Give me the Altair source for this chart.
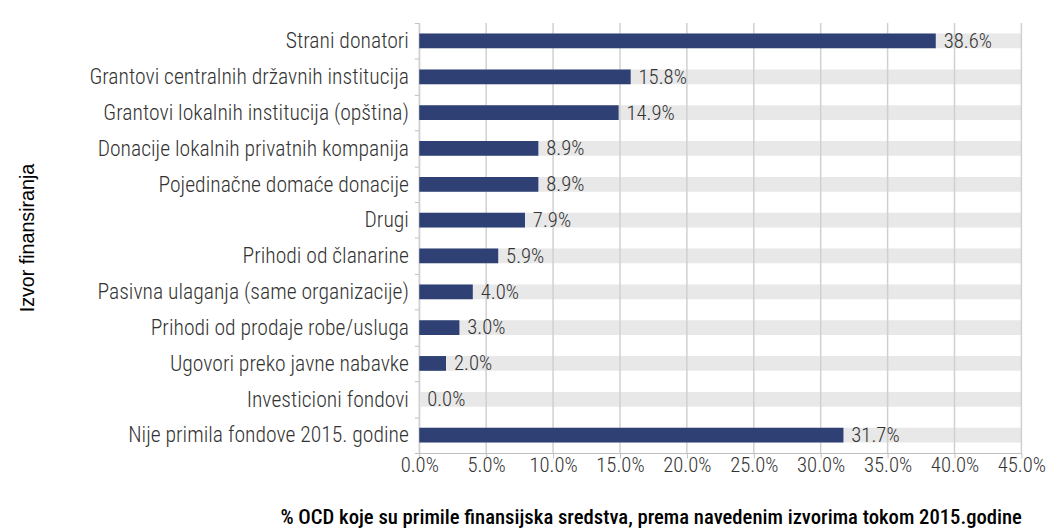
import altair as alt
import pandas as pd

categories = [
    "Strani donatori",
    "Grantovi centralnih državnih institucija",
    "Grantovi lokalnih institucija (opština)",
    "Donacije lokalnih privatnih kompanija",
    "Pojedinačne domaće donacije",
    "Drugi",
    "Prihodi od članarine",
    "Pasivna ulaganja (same organizacije)",
    "Prihodi od prodaje robe/usluga",
    "Ugovori preko javne nabavke",
    "Investicioni fondovi",
    "Nije primila fondove 2015. godine",
]
values = [0.386, 0.158, 0.149, 0.089, 0.089, 0.079, 0.059, 0.040, 0.030, 0.020, 0.000, 0.317]
tick_values = [0, 0.05, 0.1, 0.15, 0.2, 0.25, 0.3, 0.35, 0.4, 0.45]
x_max = 0.45

df = pd.DataFrame({"cat": categories, "val": values, "full": [x_max] * len(categories)})
grid_df = pd.DataFrame({"t": tick_values})

FONT = "Roboto Condensed, Liberation Sans Narrow, Roboto, sans-serif"

y_enc = alt.Y(
    "cat:N",
    sort=categories,
    title="Izvor finansiranja",
    axis=alt.Axis(
        labelFont=FONT,
        labelFontSize=22,
        labelFontWeight=300,
        labelColor="#333333",
        labelLimit=500,
        titleFont="Liberation Sans, Arial, sans-serif",
        titleFontSize=20,
        titleFontWeight="normal",
        titleColor="#000000",
        titleAngle=270,
        titleAlign="center",
        titleBaseline="middle",
        titleX=-398,
        titleY=218,
        domainColor="#bfbfbf",
        tickColor="#bfbfbf",
        tickBand="extent",
        tickSize=5,
        labelPadding=6,
        grid=False,
    ),
    scale=alt.Scale(paddingInner=0.0, paddingOuter=0.0),
)

x_axis = alt.Axis(
    format=".1%",
    values=tick_values,
    labelFont=FONT,
    labelFontSize=21,
    labelFontWeight=300,
    labelColor="#333333",
    labelOverlap=False,
    labelFlush=False,
    titleFont=FONT,
    titleFontSize=21,
    titleFontWeight=500,
    titleColor="#000000",
    titlePadding=32,
    titleAnchor="end",
    domainColor="#bfbfbf",
    tickColor="#bfbfbf",
    tickSize=5,
    grid=False,
    labelPadding=-3,
)

x_scale = alt.Scale(domain=[0, x_max], nice=False)

bg = alt.Chart(df).mark_bar(color="#e8e8e8", size=15).encode(
    y=y_enc,
    x=alt.X("full:Q", scale=x_scale, axis=x_axis,
            title="% OCD koje su primile finansijska sredstva, prema navedenim izvorima tokom 2015.godine"),
)

grid = alt.Chart(grid_df).mark_rule(color="#d0d0d0", strokeWidth=1.5).encode(
    x=alt.X("t:Q", scale=x_scale),
)

bars = alt.Chart(df).mark_bar(color="#2e4074", size=15).encode(
    y=alt.Y("cat:N", sort=categories),
    x=alt.X("val:Q", scale=x_scale),
)

labels = alt.Chart(df).mark_text(
    align="left", baseline="middle", dx=8, dy=1,
    font=FONT, fontSize=21, fontWeight=300, color="#333333",
).encode(
    y=alt.Y("cat:N", sort=categories),
    x=alt.X("val:Q", scale=x_scale),
    text=alt.Text("val:Q", format=".1%"),
)

chart = (bg + grid + bars + labels).properties(
    width=612, height=437,
    padding={"left": 10, "top": 0, "right": 0, "bottom": 0},
).configure_view(stroke=None)

chart.save("out.html", embed_options={"renderer": "svg", "actions": False})
